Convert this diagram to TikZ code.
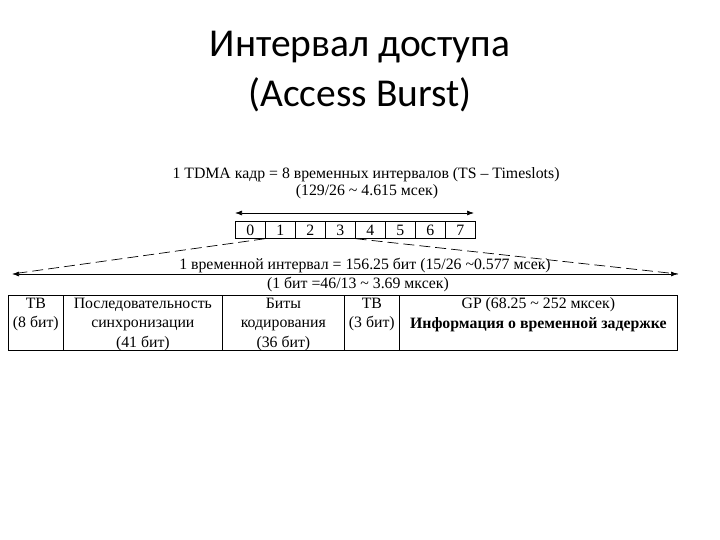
\documentclass[tikz,border=0pt]{standalone}
\usepackage{fontspec}
\setmainfont{Liberation Serif}
\newfontfamily\titlefont{Carlito}
\usetikzlibrary{arrows.meta}

\tikzset{
  lbl/.style={inner sep=0pt, font=\fontsize{15.8}{19.5}\selectfont, align=center},
  slotbox/.style={draw, minimum width=30pt, minimum height=17pt, inner sep=0pt,
    text height=11pt, text depth=0pt, anchor=north west, font=\fontsize{15.8}{17}\selectfont},
  cellbox/.style={draw, minimum height=55pt, inner sep=0pt, anchor=north west},
  celltext/.style={lbl, anchor=north, yshift=-2.5pt},
  tip/.style={{Latex[length=7pt,width=5pt]}-{Latex[length=7pt,width=5pt]}}
}

\begin{document}
\begin{tikzpicture}[x=1pt, y=-1pt, line width=0.7pt]
  \useasboundingbox (0,0) rectangle (720,540);

  % title
  \node[font=\titlefont\fontsize{39.5}{50}\selectfont, align=center] (title) at (360,72)
    {Интервал доступа\\(Access Burst)};

  % TDMA frame
  \node[lbl] (frame) at (366,175) {1 TDMA кадр = 8 временных интервалов (TS -- Timeslots)};
  \node[lbl] (framet) at (367,192) {(129/26 \textasciitilde\ 4.615 мсек)};
  \foreach \i in {0,...,7}
    \node[slotbox] (ts\i) at (235+30*\i,221) {\i};
  \coordinate (fl) at (235,213);
  \coordinate (fr) at (474,213);
  \draw[tip] (fl) -- (fr);

  % one timeslot
  \coordinate (bl) at (12,274);
  \coordinate (br) at (678,274);
  \draw[dashed, dash pattern=on 11pt off 5pt] (ts1.south west) -- (bl);
  \draw[dashed, dash pattern=on 11pt off 5pt] (ts3.south east) -- (br);
  \draw[tip] (bl) -- (br);
  \node[lbl] (slot) at (365,265.5) {1 временной интервал = 156.25 бит (15/26 \textasciitilde0.577 мсек)};
  \node[lbl] (bit) at (358,285) {(1 бит =46/13 \textasciitilde\ 3.69 мксек)};

  % burst fields
  \node[cellbox, minimum width=55pt] (c1) at (8,295) {};
  \node[cellbox, minimum width=159pt] (c2) at (63,295) {};
  \node[cellbox, minimum width=122pt] (c3) at (222,295) {};
  \node[cellbox, minimum width=55pt] (c4) at (344,295) {};
  \node[cellbox, minimum width=278pt] (c5) at (399,295) {};
  \node[celltext] (t1) at (c1.north) {ТВ\\(8 бит)};
  \node[celltext] (t2) at (c2.north) {Последовательность\\синхронизации\\(41 бит)};
  \node[celltext] (t3) at (c3.north) {Биты\\кодирования\\(36 бит)};
  \node[celltext] (t4) at (c4.north) {ТВ\\(3 бит)};
  \node[celltext] (t5) at (c5.north) {GP (68.25 \textasciitilde\ 252 мксек)\\\textbf{Информация о временной задержке}};
\end{tikzpicture}
\end{document}
